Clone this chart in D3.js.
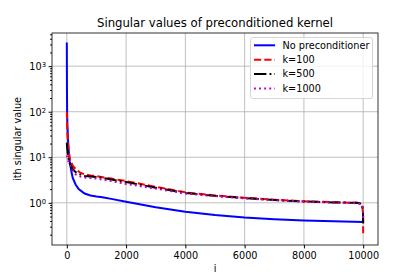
<!DOCTYPE html>
<html>
<head>
<meta charset="utf-8">
<script src="https://cdn.jsdelivr.net/npm/d3@7"></script>
<style>
  body { margin: 0; background: #fff; }
  text { font-family: "DejaVu Sans", sans-serif; }
</style>
</head>
<body>
<div id="vis"></div>
<script>
// values
var blueI   = [0, 5, 10, 20, 40, 60, 100, 150, 200, 300, 400, 600, 800, 1000, 1200, 1500, 2000, 3000, 4000, 5000, 6000, 7000, 8000, 9000, 10000];
var blueV   = [3300, 300, 100, 50, 25, 15, 8, 5, 3.5, 2.5, 2.0, 1.6, 1.45, 1.38, 1.33, 1.22, 1.05, 0.8, 0.64, 0.54, 0.475, 0.435, 0.41, 0.395, 0.38];

var k100I   = [0, 10, 30, 60, 100, 200, 300, 450, 600, 800, 1000, 1500, 2000, 3000, 4000, 5000, 6000, 7000, 8000, 9000, 9800, 9900, 9950, 9980, 9995, 10000];
var k100V   = [100, 50, 25, 14, 9.5, 6.5, 5.5, 4.6, 4.2, 4.0, 3.85, 3.4, 3.0, 2.25, 1.7, 1.45, 1.29, 1.17, 1.08, 1.03, 1.0, 0.97, 0.9, 0.75, 0.5, 0.19];

var k500I   = [0, 10, 30, 60, 100, 200, 300, 450, 600, 800, 1000, 1500, 2000, 3000, 4000, 5000, 6000, 7000, 8000, 9000, 9800, 9900, 9950, 9980, 9995, 10000];
var k500V   = [21, 16, 12, 9, 7.2, 5.5, 4.7, 4.2, 3.9, 3.8, 3.7, 3.25, 2.85, 2.15, 1.65, 1.42, 1.27, 1.15, 1.07, 1.02, 1.0, 0.97, 0.92, 0.8, 0.6, 0.35];

var k1000I  = [0, 10, 30, 60, 100, 200, 300, 450, 600, 800, 1000, 1500, 2000, 3000, 4000, 5000, 6000, 7000, 8000, 9000, 9800, 9900, 9950, 9980, 9995, 10000];
var k1000V  = [11, 10, 9, 7.8, 6.8, 5.0, 4.2, 3.8, 3.6, 3.5, 3.4, 3.0, 2.6, 2.05, 1.6, 1.4, 1.25, 1.14, 1.06, 1.01, 0.98, 0.95, 0.9, 0.8, 0.62, 0.4];

var seriesNames = ["No preconditioner", "k=100", "k=500", "k=1000"];
var seriesI = [blueI, k100I, k500I, k1000I];
var seriesV = [blueV, k100V, k500V, k1000V];
var seriesColors = ["#0000ff", "#ff0000", "#000000", "#bf00bf"];
var seriesDash = [null, "7.2,3.1", "12.4,3.1,1.9,3.1", "1.9,3.2"];

var xTicks = [0, 2000, 4000, 6000, 8000, 10000];
var yTicks = [1, 10, 100, 1000];
var yTickExp = ["0", "1", "2", "3"];

var W = 420, H = 280;
var mLeft = 52, mRight = 378, mTop = 33, mBottom = 245;

var svg = d3.select("#vis").append("svg")
    .attr("width", W).attr("height", H);

var x = d3.scaleLinear().domain([-500, 10500]).range([mLeft, mRight]);
var y = d3.scaleLog().domain([0.1185, 5350]).range([mBottom, mTop]);

// grid
svg.append("g").selectAll("line").data(xTicks).enter().append("line")
    .attr("x1", function(d){ return x(d); }).attr("x2", function(d){ return x(d); })
    .attr("y1", mTop).attr("y2", mBottom)
    .attr("stroke", "#b0b0b0").attr("stroke-width", 0.8);
svg.append("g").selectAll("line").data(yTicks).enter().append("line")
    .attr("x1", mLeft).attr("x2", mRight)
    .attr("y1", function(d){ return y(d); }).attr("y2", function(d){ return y(d); })
    .attr("stroke", "#b0b0b0").attr("stroke-width", 0.8);

// lines
svg.append("clipPath").attr("id", "clip").append("rect")
    .attr("x", mLeft).attr("y", mTop).attr("width", mRight - mLeft).attr("height", mBottom - mTop);

var plot = svg.append("g").attr("clip-path", "url(#clip)");
for (var s = 0; s < seriesNames.length; s++)
{
    var pts = seriesI[s].map(function(d, j){ return [d, seriesV[s][j]]; });
    var line = d3.line()
        .x(function(d){ return x(d[0]); })
        .y(function(d){ return y(d[1]); });
    plot.append("path")
        .attr("d", line(pts))
        .attr("fill", "none")
        .attr("stroke", seriesColors[s])
        .attr("stroke-width", 2)
        .attr("stroke-dasharray", seriesDash[s]);
}

// axes
var xAxis = d3.axisBottom(x).tickValues(xTicks).tickSize(3.4).tickPadding(3.5)
    .tickFormat(d3.format("d"));
var gx = svg.append("g").attr("transform", "translate(0," + mBottom + ")").call(xAxis);
gx.select(".domain").remove();
gx.selectAll("text").attr("font-size", 9.7).attr("fill", "#000")
    .attr("font-family", "DejaVu Sans, sans-serif");

var minor = [];
[0.1, 1, 10, 100, 1000].forEach(function(base){
    for (var m = 2; m <= 9; m++)
    {
        var v = base * m;
        if (v >= y.domain()[0] && v <= y.domain()[1]) minor.push(v);
    }
});
var gyMinor = svg.append("g").attr("transform", "translate(" + mLeft + ",0)")
    .call(d3.axisLeft(y).tickValues(minor).tickSize(1.9).tickFormat(""));
gyMinor.select(".domain").remove();

var gy = svg.append("g").attr("transform", "translate(" + mLeft + ",0)")
    .call(d3.axisLeft(y).tickValues(yTicks).tickSize(3.4).tickFormat(""));
gy.select(".domain").remove();
gy.selectAll(".tick").each(function(d, i){
    var t = d3.select(this).append("text")
        .attr("x", -6).attr("dy", "0.35em")
        .attr("text-anchor", "end").attr("fill", "#000")
        .attr("font-size", 9.7);
    t.append("tspan").text("10");
    t.append("tspan").attr("dy", "-0.45em").attr("font-size", 6.8).text(yTickExp[i]);
});

// frame
svg.append("rect")
    .attr("x", mLeft).attr("y", mTop).attr("width", mRight - mLeft).attr("height", mBottom - mTop)
    .attr("fill", "none").attr("stroke", "#000").attr("stroke-width", 0.8);

// labels
svg.append("text").attr("x", (mLeft + mRight) / 2).attr("y", 27)
    .attr("text-anchor", "middle").attr("font-size", 11.7)
    .text("Singular values of preconditioned kernel");
svg.append("text").attr("x", (mLeft + mRight) / 2).attr("y", 272)
    .attr("text-anchor", "middle").attr("font-size", 9.7).text("i");
svg.append("text")
    .attr("transform", "translate(21," + ((mTop + mBottom) / 2) + ") rotate(-90)")
    .attr("text-anchor", "middle").attr("font-size", 9.7).text("ith singular value");

// legend
var lg = svg.append("g");
lg.append("rect").attr("x", 250.5).attr("y", 37.5).attr("width", 122).attr("height", 61)
    .attr("rx", 2).attr("fill", "#fff").attr("fill-opacity", 0.8)
    .attr("stroke", "#cccccc").attr("stroke-width", 0.8);
seriesNames.forEach(function(name, i){
    var yy = 45.3 + i * 14.4;
    lg.append("line").attr("x1", 254).attr("x2", 275).attr("y1", yy).attr("y2", yy)
        .attr("stroke", seriesColors[i]).attr("stroke-width", 2)
        .attr("stroke-dasharray", seriesDash[i]);
    lg.append("text").attr("x", 282.5).attr("y", yy).attr("dy", "0.35em")
        .attr("font-size", 9.7).text(name);
});
</script>
</body>
</html>
